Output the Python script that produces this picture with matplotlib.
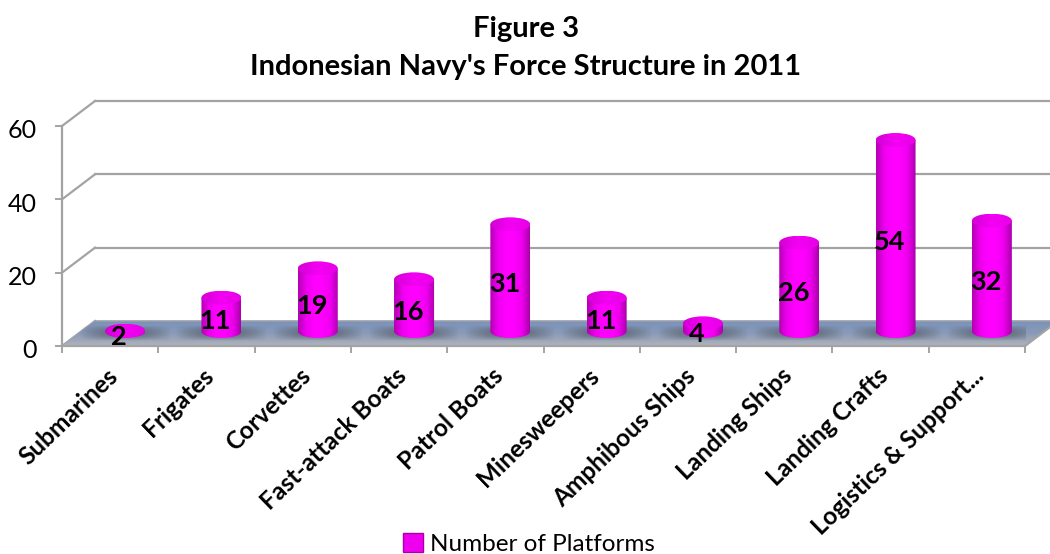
import numpy as np
import matplotlib
matplotlib.use('Agg')
import matplotlib.pyplot as plt
from matplotlib.patches import Ellipse, Patch, PathPatch, Polygon
from matplotlib.path import Path
from matplotlib.colors import LinearSegmentedColormap
from matplotlib.transforms import ScaledTranslation

categories = ['Submarines', 'Frigates', 'Corvettes', 'Fast-attack Boats', 'Patrol Boats',
              'Minesweepers', 'Amphibous Ships', 'Landing Ships', 'Landing Crafts', 'Logistics & Support...']
platforms = [2, 11, 19, 16, 31, 11, 4, 26, 54, 32]
yticks = [0, 20, 40, 60]
series_name = 'Number of Platforms'
title = "Figure 3\nIndonesian Navy's Force Structure in 2011"

W, H = 1050, 554
plt.rcParams['font.family'] = ['Lato', 'DejaVu Sans']

fig = plt.figure(figsize=(W / 100, H / 100), dpi=100)
# axes box in pixels of the picture: x 62-1025, y 126-346
ax = fig.add_axes([62 / W, 1 - 346 / H, 963 / W, 220 / H])
ax.set_xlim(0, 10)
ax.set_ylim(0, 60)
ax.patch.set_visible(False)
for s in ax.spines.values():
    s.set_visible(False)

px = 10 / 963  # one pixel in x units
py = 60 / 220  # one pixel in y units
dx = 33 * px   # depth of the fake 3d box
dy = 25 * py
grey = '#a3a3a3'

# walls
ax.plot([0, 0], [0, 60], color=grey, lw=1.6, clip_on=False, zorder=1)
ax.plot([0, 10], [0, 0], color=grey, lw=1.6, clip_on=False, zorder=3)
for v in yticks:
    ax.plot([0, dx], [v, v + dy], color=grey, lw=1.6, clip_on=False, zorder=1)
    if v > 0:
        ax.plot([dx, 10 + dx], [v + dy, v + dy], color=grey, lw=1.6, clip_on=False, zorder=1)

# floor
floor_cm = LinearSegmentedColormap.from_list('floor', ['#7b92b8', '#8a9bb8', '#b0b3bc'])
floor_img = ax.imshow(np.linspace(0, 1, 64).reshape(-1, 1), cmap=floor_cm, aspect='auto',
                      extent=(0, 10 + dx, 0, dy), origin='upper', zorder=2)
floor_poly = Polygon([(0, 0), (dx, dy), (10 + dx, dy), (10, 0)], transform=ax.transData,
                     facecolor='none', edgecolor='none', clip_on=False)
ax.add_patch(floor_poly)
floor_img.set_clip_box(fig.bbox)
floor_img.set_clip_path(floor_poly)
ax.plot([dx, 10 + dx], [dy, dy], color='#9a9fab', lw=1.2, clip_on=False, zorder=2)
ax.plot([10, 10 + dx], [0, dy], color=grey, lw=1.6, clip_on=False, zorder=3)

# cylinders
side_cm = LinearSegmentedColormap.from_list('side', ['#b400b4', '#ee00ee', '#ff00ff', '#ff00ff', '#ee00ee', '#ac00ac'])
top_cm = LinearSegmentedColormap.from_list('top', ['#d400d4', '#f400f4', '#e800e8'])
half_w = 20 * px
cap_h = 14 * py
base = 15 * py
lift = 8 * py
shadow_rgba = np.zeros((24, 64, 4))
xs = np.linspace(-1, 1, 64)
ys = np.linspace(-1, 1, 24)
shadow_rgba[..., 3] = 0.45 * np.clip(1 - xs ** 2, 0, 1)[None, :] * np.clip(1 - ys ** 2, 0, 1)[:, None]
shadow_rgba[..., :3] = 0.2

for i, v in enumerate(platforms):
    cx = i + 0.5 + 15 * px
    top = v + lift
    ax.imshow(shadow_rgba, aspect='auto', extent=(cx - 46 * px, cx + 46 * px, 5 * py, 21 * py), zorder=4)

    verts = [(cx - half_w, top), (cx - half_w, base)]
    codes = [Path.MOVETO, Path.LINETO]
    verts += [(cx - half_w, base - cap_h * 0.66), (cx + half_w, base - cap_h * 0.66), (cx + half_w, base)]
    codes += [Path.CURVE4, Path.CURVE4, Path.CURVE4]
    verts += [(cx + half_w, top), (cx - half_w, top)]
    codes += [Path.LINETO, Path.CLOSEPOLY]
    body = PathPatch(Path(verts, codes), facecolor='none', edgecolor='none', transform=ax.transData)
    ax.add_patch(body)
    g = ax.imshow(np.linspace(0, 1, 64).reshape(1, -1), cmap=side_cm, aspect='auto',
                  extent=(cx - half_w, cx + half_w, 0, top), zorder=5)
    g.set_clip_path(body)

    cap = Ellipse((cx, top), 2 * half_w, cap_h, facecolor='none', edgecolor='none', transform=ax.transData)
    ax.add_patch(cap)
    c = ax.imshow(np.linspace(0, 1, 64).reshape(1, -1), cmap=top_cm, aspect='auto',
                  extent=(cx - half_w, cx + half_w, top - cap_h / 2, top + cap_h / 2), zorder=6)
    c.set_clip_path(cap)

    ax.text(i + 0.5 + 9 * px, v / 2 + 5 * py, str(v), ha='center', va='center',
            fontsize=19.5, fontweight='bold', color='black', zorder=8)

ax.set_xlim(0, 10)
ax.set_ylim(0, 60)

# axes ticks
ax.set_yticks(yticks)
ax.tick_params(axis='y', length=5, width=1.4, color=grey, labelsize=18, pad=13)
down = ScaledTranslation(0, -2 / 72, fig.dpi_scale_trans)
for lab in ax.get_yticklabels():
    lab.set_transform(lab.get_transform() + down)
ax.set_xticks(range(11))
ax.set_xticklabels([])
ax.tick_params(axis='x', which='major', length=5, width=1.4, color=grey)
ax.set_xticks(np.arange(10) + 0.5, minor=True)
ax.set_xticklabels(categories, minor=True, rotation=44, ha='right', rotation_mode='anchor',
                   fontsize=17.6, fontweight='bold')
ax.tick_params(axis='x', which='minor', length=0, pad=13)
shift = ScaledTranslation(-3 / 72, 0, fig.dpi_scale_trans)
for lab in ax.get_xticklabels(minor=True):
    lab.set_transform(lab.get_transform() + shift)

fig.text(526 / W, 1 - 29 / H, title.split('\n')[0], ha='center', va='center', fontsize=21, fontweight='bold')
fig.text(526 / W, 1 - 67 / H, title.split('\n')[1], ha='center', va='center', fontsize=21, fontweight='bold')

fig.legend(handles=[Patch(facecolor='#ee00ee', edgecolor='#a800a8', label=series_name)],
           loc='center', bbox_to_anchor=(529 / W, 1 - 544 / H), frameon=False, fontsize=17.5,
           handlelength=0.8, handleheight=0.8, handletextpad=0.3, borderpad=0)

fig.savefig('out.png', dpi=100)
